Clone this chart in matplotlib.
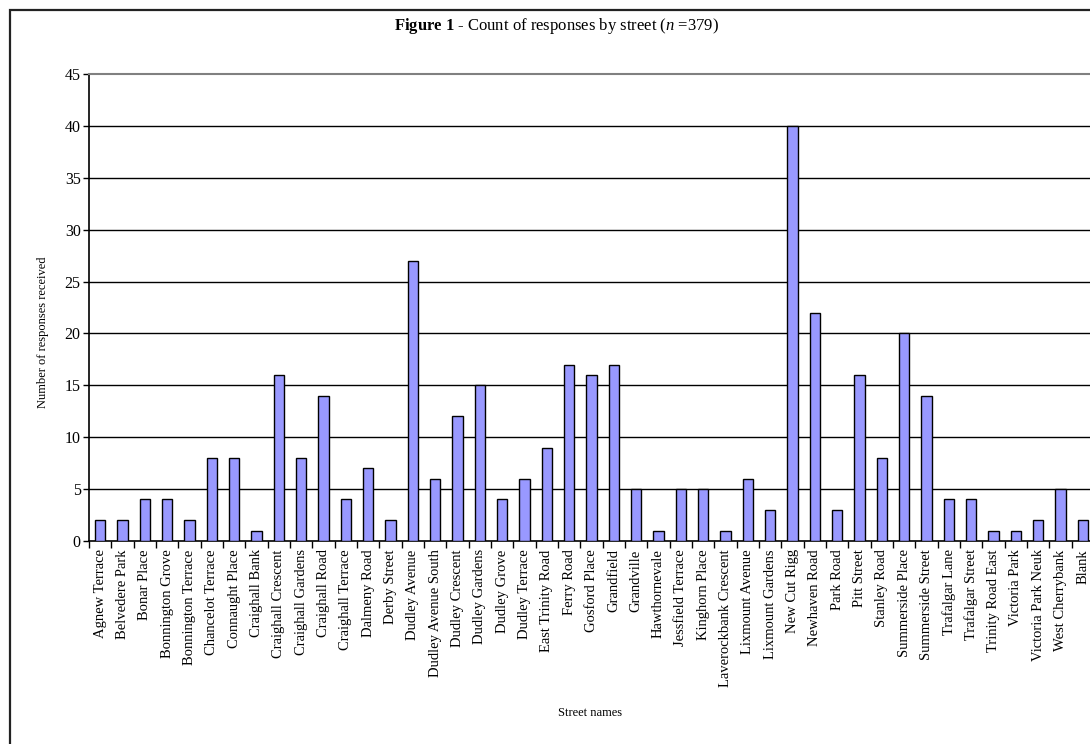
import matplotlib
matplotlib.use("Agg")
import matplotlib.pyplot as plt
from matplotlib.patches import Rectangle
import numpy as np

plt.rcParams['font.family'] = ['Liberation Serif', 'DejaVu Serif']
plt.rcParams['mathtext.fontset'] = 'custom'
plt.rcParams['mathtext.rm'] = 'Liberation Serif'
plt.rcParams['mathtext.it'] = 'Liberation Serif:italic'
plt.rcParams['mathtext.bf'] = 'Liberation Serif:bold'

streets = ["Agnew Terrace", "Belvedere Park", "Bonar Place", "Bonnington Grove",
           "Bonnington Terrace", "Chancelot Terrace", "Connaught Place", "Craighall Bank",
           "Craighall Crescent", "Craighall Gardens", "Craighall Road", "Craighall Terrace",
           "Dalmeny Road", "Derby Street", "Dudley Avenue", "Dudley Avenue South",
           "Dudley Crescent", "Dudley Gardens", "Dudley Grove", "Dudley Terrace",
           "East Trinity Road", "Ferry Road", "Gosford Place", "Grandfield", "Grandville",
           "Hawthornevale", "Jessfield Terrace", "Kinghorn Place", "Laverockbank Crescent",
           "Lixmount Avenue", "Lixmount Gardens", "New Cut Rigg", "Newhaven Road",
           "Park Road", "Pitt Street", "Stanley Road", "Summerside Place",
           "Summerside Street", "Trafalgar Lane", "Trafalgar Street", "Trinity Road East",
           "Victoria Park", "Victoria Park Neuk", "West Cherrybank", "Blank"]
responses = [2, 2, 4, 4, 2, 8, 8, 1, 16, 8, 14, 4, 7, 2, 27, 6, 12, 15, 4, 6,
             9, 17, 16, 17, 5, 1, 5, 5, 1, 6, 3, 40, 22, 3, 16, 8, 20, 14, 4, 4,
             1, 1, 2, 5, 2]
y_ticks = [0, 5, 10, 15, 20, 25, 30, 35, 40, 45]

W, H = 1090, 744
fig = plt.figure(figsize=(W / 100, H / 100), dpi=100)
fig.patch.set_facecolor("white")

# outer chart border (runs off the right and bottom edges)
fig.add_artist(Rectangle((10 / W, -0.05), 1.2, 1 - 10 / H + 0.05,
                         transform=fig.transFigure, fill=False,
                         edgecolor="#222222", linewidth=1.6))

ax = fig.add_axes([89 / W, 1 - 541 / H, (1094 - 89) / W, (541 - 74) / H])
x = np.arange(len(streets))
ax.bar(x, responses, width=0.45, color="#9999FF", edgecolor="black",
       linewidth=1.0, zorder=3)

ax.set_xlim(-0.5, len(streets) - 0.5)
ax.set_ylim(0, 45)
ax.set_yticks(y_ticks)
ax.tick_params(axis="y", labelsize=11.5, length=4, width=1, pad=2, direction="out")
for v in y_ticks[1:-1]:
    ax.axhline(v, color="black", linewidth=1.0, zorder=1)

ax.set_xticks(x)
ax.set_xticklabels(streets, rotation=90, fontsize=10.5)
ax.tick_params(axis="x", length=0, pad=6)
ax.set_xticks(np.arange(-0.5, len(streets), 1), minor=True)
ax.tick_params(axis="x", which="minor", length=5, width=1, direction="out")

for side in ["left", "bottom"]:
    ax.spines[side].set_color("black")
    ax.spines[side].set_linewidth(1.2)
ax.spines["top"].set_color("#808080")
ax.spines["top"].set_linewidth(1.5)
ax.spines["right"].set_visible(False)

ax.set_ylabel("Number of responses received", fontsize=9, va="center")
ax.yaxis.set_label_coords(-0.0458, 0.4475)
fig.text(590 / W, 1 - 713 / H, "Street names", fontsize=9, ha="center", va="center")

fig.text(556 / W, 1 - 26 / H,
         r"$\mathbf{Figure\ 1}$ - Count of responses by street ($\it{n}$ =379)",
         fontsize=12, ha="center", va="center")

fig.savefig("out.png", dpi=100)
